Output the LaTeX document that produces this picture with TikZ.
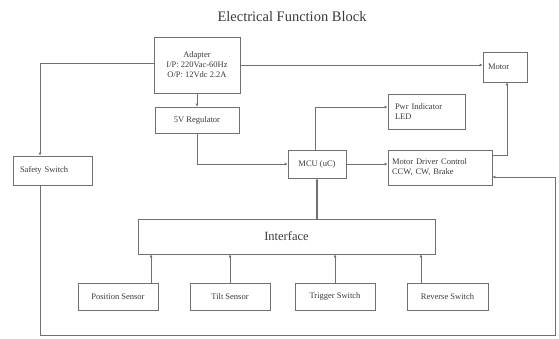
\documentclass[tikz,border=0pt]{standalone}
\usepackage{fontspec}
\setmainfont{Liberation Serif}
\usetikzlibrary{arrows.meta}
\definecolor{ln}{HTML}{707070}
\definecolor{tx}{HTML}{3A3A3A}
\tikzset{
  blk/.style={draw=ln, line width=0.6pt, inner sep=2pt, font=\fontsize{8.5}{10}\selectfont, text=tx},
  conn/.style={draw=ln, line width=0.6pt, -{Latex[length=3pt,width=2.8pt]}},
}
\begin{document}
\begin{tikzpicture}[x=1pt,y=-1pt]
\useasboundingbox (0,0) rectangle (559,338);
\node[text=tx, font=\fontsize{14.5}{16}\selectfont] (title) at (292,17) {Electrical Function Block};

\node[blk, minimum width=86pt, minimum height=56pt, align=center] (adapter) at (197,65)
  {Adapter\\I/P: 220Vac-60Hz\\O/P: 12Vdc 2.2A};
\node[blk, minimum width=84pt, minimum height=26pt] (reg) at (197,120) {5V Regulator};
\node[blk, minimum width=79pt, minimum height=29pt, inner xsep=7pt, text width=65pt, align=left] (safety) at (52.5,170.5) {Safety Switch};
\node[blk, minimum width=44pt, minimum height=30pt, inner xsep=5pt, text width=34pt, align=left] (motor) at (505,67) {Motor};
\node[blk, minimum width=77pt, minimum height=35pt, text width=63pt, align=left] (pwr) at (426.5,111.5) {Pwr Indicator\\LED};
\node[blk, minimum width=58pt, minimum height=28pt] (mcu) at (317,164) {MCU (uC)};
\node[blk, minimum width=104pt, minimum height=35pt, text width=96pt, align=left] (driver) at (440,167.5) {Motor Driver Control\\CCW, CW, Brake};
\node[blk, minimum width=297pt, minimum height=35pt, font=\fontsize{12.5}{14}\selectfont] (iface) at (286.5,236.5) {Interface};
\node[blk, minimum width=80pt, minimum height=27pt] (s1) at (118,296.5) {Position Sensor};
\node[blk, minimum width=80pt, minimum height=27pt] (s2) at (230,296.5) {Tilt Sensor};
\node[blk, minimum width=80pt, minimum height=27pt] (s3) at (335,296.5) {Trigger Switch};
\node[blk, minimum width=81pt, minimum height=27pt] (s4) at (447.5,296.5) {Reverse Switch};

\coordinate (bl) at (40,335);
\coordinate (br) at (555,335);

\draw[conn] ([yshift=2pt]adapter.west) -| ([xshift=-12.5pt]safety.north);
\draw[conn] (adapter.east) -- (adapter.east -| motor.west);
\draw[conn] (adapter.south) -- (reg.north);
\draw[conn] (reg.south) |- (mcu.west);
\draw[conn] ([xshift=-2pt]mcu.north) |- ([yshift=4.5pt]pwr.west);
\draw[conn] (mcu.east) -- (mcu.east -| driver.west);
\draw[conn] ([yshift=12.5pt]driver.east) -| ([xshift=2pt]motor.south);
\draw[conn] ([xshift=-12.5pt]safety.south) |- (bl) -- (br) |- ([yshift=-9.5pt]driver.east);
\draw[conn, line width=1.3pt] (iface.north -| mcu.south) -- (mcu.south);
\draw[conn] ([xshift=33pt]s1.north) -- ([xshift=33pt]s1.north |- iface.south);
\draw[conn] (s2.north) -- (s2.north |- iface.south);
\draw[conn] (s3.north) -- (s3.north |- iface.south);
\draw[conn] ([xshift=-26.5pt]s4.north) -- ([xshift=-26.5pt]s4.north |- iface.south);
\end{tikzpicture}
\end{document}
